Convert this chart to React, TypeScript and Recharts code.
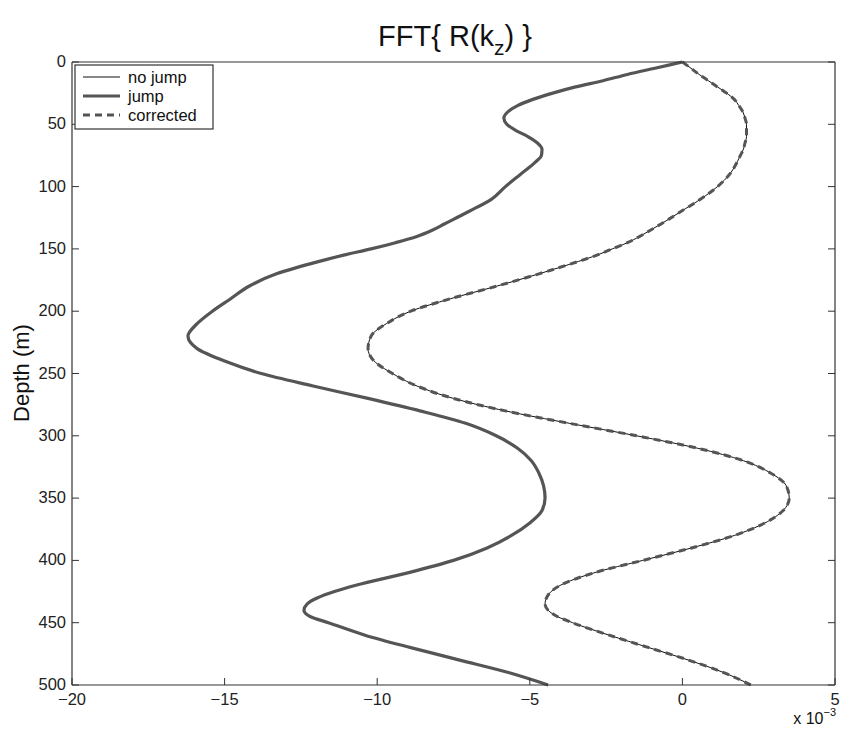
import { LineChart, Line, XAxis, YAxis } from 'recharts'

// depth (m) sampled down the profile
const depths = [0, 5, 10, 15, 20, 25, 30, 35, 40, 45, 50, 55, 60, 65, 70, 75, 80, 90, 100, 110, 120, 130, 135, 140, 145, 150, 155, 160, 170, 180, 190, 200, 210, 220, 230, 240, 250, 260, 270, 280, 290, 300, 310, 320, 330, 340, 350, 360, 370, 380, 390, 400, 410, 420, 425, 430, 435, 440, 445, 450, 460, 470, 480, 490, 500]

// values in units of 1e-3
const jumpVals = [0, -0.9, -1.8, -2.6, -3.5, -4.25, -4.9, -5.4, -5.72, -5.85, -5.75, -5.45, -5.05, -4.75, -4.6, -4.62, -4.8, -5.3, -5.8, -6.25, -7.0, -7.8, -8.2, -8.7, -9.4, -10.2, -11.1, -11.9, -13.3, -14.2, -14.8, -15.4, -15.9, -16.2, -15.9, -15.0, -13.8, -12.1, -10.3, -8.6, -7.1, -6.1, -5.4, -4.95, -4.7, -4.55, -4.5, -4.6, -5.0, -5.6, -6.4, -7.5, -9.0, -10.7, -11.4, -11.95, -12.3, -12.4, -12.2, -11.6, -10.4, -8.9, -7.3, -5.7, -4.4]
const noJumpVals = [0, 0.28, 0.55, 0.85, 1.15, 1.45, 1.7, 1.85, 1.98, 2.05, 2.1, 2.1, 2.1, 2.05, 2.0, 1.9, 1.8, 1.55, 1.15, 0.6, -0.05, -0.7, -1.05, -1.4, -1.8, -2.3, -2.8, -3.4, -4.7, -6.1, -7.6, -8.9, -9.7, -10.2, -10.3, -10.1, -9.5, -8.7, -7.5, -5.8, -3.7, -1.5, 0.5, 2.0, 2.9, 3.4, 3.5, 3.3, 2.7, 1.7, 0.3, -1.3, -2.9, -4.0, -4.3, -4.45, -4.5, -4.4, -4.1, -3.6, -2.4, -1.1, 0.2, 1.35, 2.25]
const correctedVals = [0, 0.28, 0.55, 0.85, 1.15, 1.45, 1.7, 1.85, 1.98, 2.05, 2.1, 2.1, 2.1, 2.05, 2.0, 1.9, 1.8, 1.55, 1.15, 0.6, -0.05, -0.7, -1.05, -1.4, -1.8, -2.3, -2.8, -3.4, -4.7, -6.1, -7.6, -8.9, -9.7, -10.2, -10.3, -10.1, -9.5, -8.7, -7.5, -5.8, -3.7, -1.5, 0.5, 2.0, 2.9, 3.4, 3.5, 3.3, 2.7, 1.7, 0.3, -1.3, -2.9, -4.0, -4.3, -4.45, -4.5, -4.4, -4.1, -3.6, -2.4, -1.1, 0.2, 1.35, 2.25]

const xTicks = [-20, -15, -10, -5, 0, 5]
const yTicks = [0, 50, 100, 150, 200, 250, 300, 350, 400, 450, 500]

const series = [
  { key: 'noJump', name: 'no jump', stroke: '#111', width: 1, dash: undefined },
  { key: 'jump', name: 'jump', stroke: '#555', width: 3.2, dash: undefined },
  { key: 'corrected', name: 'corrected', stroke: '#555', width: 3, dash: '7 5' },
]

const data = depths.map((d, i) => ({ depth: d, jump: jumpVals[i], noJump: noJumpVals[i], corrected: correctedVals[i] }))

const FONT = '"Liberation Sans", Arial, Helvetica, sans-serif'
const AXIS = '#333'
const TICK = 7
const fmt = (v: number) => (v < 0 ? '\u2212' + Math.abs(v) : String(v))

const BottomTick = ({ x, y, payload }: any) => (
  <g>
    <line x1={x} x2={x} y1={y} y2={y - TICK} stroke={AXIS} />
    <text x={x} y={y + 20} textAnchor="middle" fontSize={16.5} fill="#222" fontFamily={FONT}>{fmt(payload.value)}</text>
  </g>
)
const TopTick = ({ x, y }: any) => <line x1={x} x2={x} y1={y} y2={y + TICK} stroke={AXIS} />
const LeftTick = ({ x, y, payload }: any) => (
  <g>
    <line x1={x} x2={x + TICK} y1={y} y2={y} stroke={AXIS} />
    <text x={x - 6} y={y + 5} textAnchor="end" fontSize={16.5} fill="#222" fontFamily={FONT}>{payload.value}</text>
  </g>
)
const RightTick = ({ x, y }: any) => <line x1={x} x2={x - TICK} y1={y} y2={y} stroke={AXIS} />

export default function App() {
  return (
    <div style={{ position: 'absolute', left: 0, top: 0, width: 855, height: 730, background: '#fff', fontFamily: FONT }}>
      <LineChart width={855} height={730} data={data} layout="vertical" margin={{ top: 61, right: 19, bottom: 44, left: 71 }}>
        <XAxis type="number" domain={[-20, 5]} ticks={xTicks} height={1} tickSize={0} tickMargin={0} tickLine={false}
          axisLine={{ stroke: AXIS, strokeWidth: 1.2 }} tick={<BottomTick />} allowDataOverflow />
        <XAxis xAxisId="top" orientation="top" type="number" domain={[-20, 5]} ticks={xTicks} height={1} tickSize={0} tickMargin={0}
          tickLine={false} axisLine={{ stroke: AXIS, strokeWidth: 1.2 }} tick={<TopTick />} />
        <YAxis type="number" dataKey="depth" domain={[0, 500]} ticks={yTicks} width={1} tickSize={0} tickMargin={0}
          tickLine={false} axisLine={{ stroke: AXIS, strokeWidth: 1.2 }} tick={<LeftTick />} />
        <YAxis yAxisId="right" orientation="right" type="number" dataKey="depth" domain={[0, 500]} ticks={yTicks} width={1}
          tickSize={0} tickMargin={0} tickLine={false} axisLine={{ stroke: AXIS, strokeWidth: 1.2 }} tick={<RightTick />} />
        <Line dataKey="jump" type="monotone" stroke="#555" strokeWidth={3.2} dot={false} isAnimationActive={false} />
        <Line dataKey="noJump" type="monotone" stroke="#111" strokeWidth={1} dot={false} isAnimationActive={false} />
        <Line dataKey="corrected" type="monotone" stroke="#555" strokeWidth={3} strokeDasharray="7 5" dot={false} isAnimationActive={false} />
      </LineChart>
      <svg width={855} height={730} style={{ position: 'absolute', left: 0, top: 0, pointerEvents: 'none' }}>
        <text x={455} y={46} textAnchor="middle" fontSize={29} fill="#111" fontFamily={FONT}>
          FFT{'{'} R(k<tspan dy={9} fontSize={21}>z</tspan><tspan dy={-9}>) {'}'}</tspan>
        </text>
        <text transform="translate(29,373) rotate(-90)" textAnchor="middle" fontSize={22} fill="#111" fontFamily={FONT}>Depth (m)</text>
        <text x={836} y={724} textAnchor="end" fontSize={16} fill="#111" fontFamily={FONT}>
          x 10<tspan dy={-8} fontSize={11}>−3</tspan>
        </text>
        <rect x={75} y={65} width={138} height={64} fill="#fff" stroke={AXIS} strokeWidth={1.2} />
        {series.map((s, i) => (
          <g key={s.key}>
            <line x1={83} x2={120} y1={77 + i * 19} y2={77 + i * 19} stroke={s.stroke} strokeWidth={s.width} strokeDasharray={s.dash} />
            <text x={128} y={83 + i * 19} fontSize={16.5} fill="#111" fontFamily={FONT}>{s.name}</text>
          </g>
        ))}
      </svg>
    </div>
  )
}
